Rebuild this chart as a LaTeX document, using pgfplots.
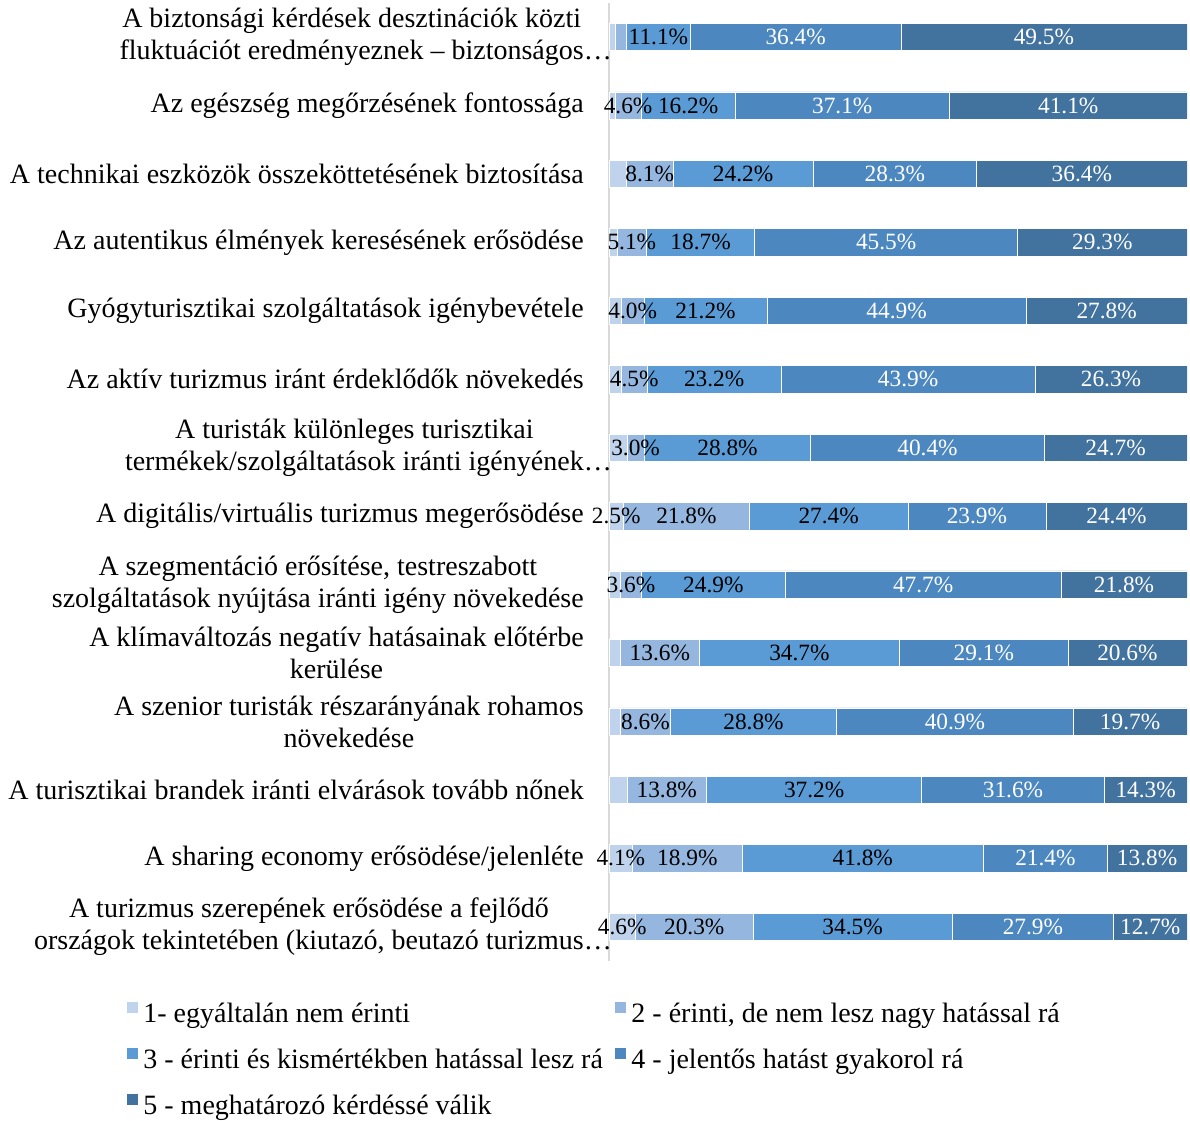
\documentclass[border=0pt]{standalone}
\usepackage{pgfplots}
\usepackage{pgfplotstable}
\pgfplotsset{compat=1.18}
\usepackage{fontspec}
\setmainfont{Liberation Serif}
\definecolor{c1}{HTML}{C0D3EC}
\definecolor{c2}{HTML}{95B6DE}
\definecolor{c3}{HTML}{5B9BD5}
\definecolor{c4}{HTML}{4C88BF}
\definecolor{c5}{HTML}{42729E}
\definecolor{axgray}{HTML}{D9D9D9}

\pgfplotstableread{
y s1 s2 s3 s4 s5 l1 l2 l3 l4 l5
0 1.0 2.0 11.1 36.4 49.5 - - 11.1 36.4 49.5
1 1.0 4.6 16.2 37.1 41.1 - 4.6 16.2 37.1 41.1
2 3.0 8.1 24.2 28.3 36.4 - 8.1 24.2 28.3 36.4
3 1.4 5.1 18.7 45.5 29.3 - 5.1 18.7 45.5 29.3
4 2.1 4.0 21.2 44.9 27.8 - 4.0 21.2 44.9 27.8
5 2.1 4.5 23.2 43.9 26.3 - 4.5 23.2 43.9 26.3
6 3.1 3.0 28.8 40.4 24.7 - 3.0 28.8 40.4 24.7
7 2.5 21.8 27.4 23.9 24.4 2.5 21.8 27.4 23.9 24.4
8 2.0 3.6 24.9 47.7 21.8 - 3.6 24.9 47.7 21.8
9 2.0 13.6 34.7 29.1 20.6 - 13.6 34.7 29.1 20.6
10 2.0 8.6 28.8 40.9 19.7 - 8.6 28.8 40.9 19.7
11 3.1 13.8 37.2 31.6 14.3 - 13.8 37.2 31.6 14.3
12 4.1 18.9 41.8 21.4 13.8 4.1 18.9 41.8 21.4 13.8
13 4.6 20.3 34.5 27.9 12.7 4.6 20.3 34.5 27.9 12.7
}\data

\def\hid{-}
\newcommand\seglabel{\edef\tmp{\pgfplotspointmeta}\ifx\tmp\hid\else\tmp\%\fi}

\pgfplotsset{
  seg/.style n args={2}{
    fill=#1, draw=white, line width=0.4pt,
    nodes near coords=\seglabel,
    every node near coord/.append style={text=#2, anchor=center, inner sep=0pt,
      font=\fontsize{17.5}{21}\selectfont},
  },
}

\begin{document}
\begin{tikzpicture}[font=\fontsize{21}{24}\selectfont]
\begin{axis}[
  at={(456.75pt,120pt)}, anchor=south west,
  scale only axis, width=433.5pt, height=718.65pt,
  xbar stacked, bar width=20.5pt,
  xmin=0, xmax=100, ymin=-0.5, ymax=13.5, y dir=reverse,
  enlargelimits=false,
  point meta=explicit symbolic,
  axis x line=none,
  axis y line*=left,
  y axis line style={draw=axgray, line width=1.5pt, -},
  xtick=\empty,
  ytick={0,...,13},
  major tick length=0pt,
  ytick style={draw=none},
  yticklabel style={align=center, inner sep=0pt, xshift=-18.75pt, font=\fontsize{21}{24}\selectfont},
  yticklabels={
    {A biztonsági kérdések desztinációk közti\\fluktuációt eredményeznek – biztonságos\rlap{…}},
    {Az egészség megőrzésének fontossága},
    {A technikai eszközök összeköttetésének biztosítása},
    {Az autentikus élmények keresésének erősödése},
    {Gyógyturisztikai szolgáltatások igénybevétele},
    {Az aktív turizmus iránt érdeklődők növekedés},
    {A turisták különleges turisztikai\\termékek/szolgáltatások iránti igényének\rlap{…}},
    {A digitális/virtuális turizmus megerősödése},
    {A szegmentáció erősítése, testreszabott\\szolgáltatások nyújtása iránti igény növekedése},
    {A klímaváltozás negatív hatásainak előtérbe\\kerülése},
    {A szenior turisták részarányának rohamos\\növekedése},
    {A turisztikai brandek iránti elvárások tovább nőnek},
    {A sharing economy erősödése/jelenléte},
    {A turizmus szerepének erősödése a fejlődő\\országok tekintetében (kiutazó, beutazó turizmus\rlap{…}}
  },
  legend columns=2,
  legend cell align=left,
  legend image code/.code={\fill[#1] (0pt,2pt) rectangle (9pt,11pt); \path (10.5pt,6pt);},
  legend style={at={(-0.8357,-0.0414)}, anchor=north west, draw=none, fill=none,
    inner sep=0pt, font=\fontsize{21}{24}\selectfont, row sep=11.5pt,
    nodes={text height=14pt, text depth=5pt, inner sep=2pt},
    /tikz/every even column/.append style={column sep=6.5pt}},
]
\addplot[seg={c1}{black}] table[x=s1, y=y, meta=l1] {\data};
\addlegendentry{1- egyáltalán nem érinti}
\addplot[seg={c2}{black}] table[x=s2, y=y, meta=l2] {\data};
\addlegendentry{2 - érinti, de nem lesz nagy hatással rá}
\addplot[seg={c3}{black}] table[x=s3, y=y, meta=l3] {\data};
\addlegendentry{3 - érinti és kismértékben hatással lesz rá}
\addplot[seg={c4}{white}] table[x=s4, y=y, meta=l4] {\data};
\addlegendentry{4 - jelentős hatást gyakorol rá}
\addplot[seg={c5}{white}] table[x=s5, y=y, meta=l5] {\data};
\addlegendentry{5 - meghatározó kérdéssé válik}
\end{axis}
\pgfresetboundingbox
\path[use as bounding box] (0pt,0pt) rectangle (892.5pt,840.75pt);
\end{tikzpicture}
\end{document}
